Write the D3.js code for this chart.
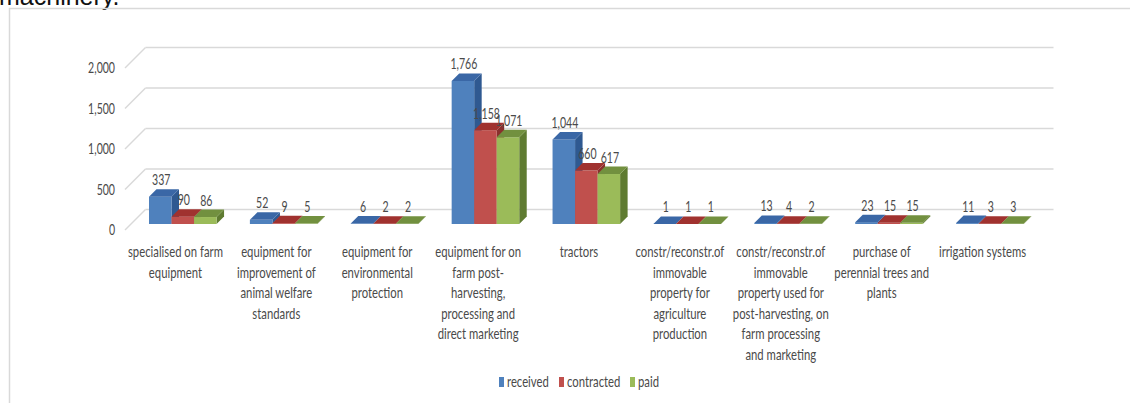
<!DOCTYPE html>
<html>
<head>
<meta charset="utf-8">
<script src="https://cdn.jsdelivr.net/npm/d3@7"></script>
<style>
  body { margin: 0; background: #fff; }
  svg { display: block; }
</style>
</head>
<body>
<div id="chart"></div>
<script>
let width = 1130,
    height = 403

// data
let categories = [
  "specialised on farm equipment",
  "equipment for improvement of animal welfare standards",
  "equipment for environmental protection",
  "equipment for on farm post-harvesting, processing and direct marketing",
  "tractors",
  "constr/reconstr.of immovable property for agriculture production",
  "constr/reconstr.of immovable property used for post-harvesting, on farm processing and marketing",
  "purchase of perennial trees and plants",
  "irrigation systems"
];
let categoryLines = [
  ["specialised on farm", "equipment"],
  ["equipment for", "improvement of", "animal welfare", "standards"],
  ["equipment for", "environmental", "protection"],
  ["equipment for on", "farm post-", "harvesting,", "processing and", "direct marketing"],
  ["tractors"],
  ["constr/reconstr.of", "immovable", "property for", "agriculture", "production"],
  ["constr/reconstr.of", "immovable", "property used for", "post-harvesting, on", "farm processing", "and marketing"],
  ["purchase of", "perennial trees and", "plants"],
  ["irrigation systems"]
];
let seriesNames = ["received", "contracted", "paid"];
let received   = [337, 52, 6, 1766, 1044, 1, 13, 23, 11];
let contracted = [90, 9, 2, 1158, 660, 1, 4, 15, 3];
let paid       = [86, 5, 2, 1071, 617, 1, 2, 15, 3];
let yTicks = [0, 500, 1000, 1500, 2000];

let seriesValues = [received, contracted, paid];

let frontColor = d3.scaleOrdinal().domain(seriesNames).range(["#4f81bd", "#c0504d", "#9bbb59"]);
let topColor   = d3.scaleOrdinal().domain(seriesNames).range(["#3a67a6", "#a0322f", "#72903f"]);
let sideColor  = d3.scaleOrdinal().domain(seriesNames).range(["#2f5991", "#8a302d", "#5f7b31"]);

// oblique 3d: depth z shifts a point right and up
const floorDepth = 20.5,
      barFront = 6,
      barBack = 13.5;

let x0 = d3.scaleBand()
  .domain(categories)
  .range([125, 1033]);

let x1 = d3.scaleBand()
  .domain(seriesNames)
  .range([0, x0.bandwidth()])
  .paddingInner(0)
  .paddingOuter(0.74)
  .align(0.54);

let y = d3.scaleLinear()
  .domain([0, 2000])
  .range([230, 68]);

let fmt = d3.format(",");

let svg = d3.select("#chart")
  .append("svg")
    .attr("width", width)
    .attr("height", height);

// caption tail from the page above the chart
svg.append("text")
  .attr("x", -1)
  .attr("y", 5)
  .style("font-family", "Liberation Sans, Arial, sans-serif")
  .style("font-size", "25px")
  .attr("fill", "#111")
  .text("machinery.");

// chart frame
svg.append("rect")
  .attr("x", 9.5)
  .attr("y", 8.5)
  .attr("width", width + 20)
  .attr("height", height + 20)
  .attr("fill", "none")
  .attr("stroke", "#d9d9d9")
  .attr("stroke-width", 1.5);

// gridlines: back wall + side floor edge
let grid = svg.append("g");
grid.selectAll("line.back")
  .data(yTicks)
  .enter()
  .append("line")
    .attr("x1", x0.range()[0] + floorDepth)
    .attr("x2", x0.range()[1] + floorDepth)
    .attr("y1", d => y(d) - floorDepth)
    .attr("y2", d => y(d) - floorDepth)
    .attr("stroke", "#d9d9d9")
    .attr("stroke-width", 1.5);
grid.selectAll("line.side")
  .data(yTicks)
  .enter()
  .append("line")
    .attr("x1", x0.range()[0])
    .attr("x2", x0.range()[0] + floorDepth)
    .attr("y1", d => y(d))
    .attr("y2", d => y(d) - floorDepth)
    .attr("stroke", "#d9d9d9")
    .attr("stroke-width", 1.5);

const numFont = "Lato, 'Open Sans', sans-serif";
const numSize = 16, numScale = 0.66;
const txtSize = 14.5, txtScale = 0.78;
const textColor = "#4a4a4a";

// y tick labels
svg.append("g")
  .selectAll("text")
  .data(yTicks)
  .enter()
  .append("text")
    .attr("transform", d => `translate(115,${y(d) + 1}) scale(${numScale},1)`)
    .attr("text-anchor", "end")
    .attr("dominant-baseline", "middle")
    .style("font-family", numFont)
    .style("font-size", numSize + "px")
    .attr("fill", textColor)
    .text(d => fmt(d));

// flat list of bars
let bars = [];
categories.forEach((c, i) => {
  seriesNames.forEach((s, j) => {
    bars.push({cat: c, series: s, value: seriesValues[j][i]});
  });
});

function barX(d) { return x0(d.cat) + x1(d.series); }

// 3d bars
let bw = x1.bandwidth();
let barG = svg.append("g")
  .selectAll("g")
  .data(bars)
  .enter()
  .append("g");

barG.append("path")
  .attr("d", d => {
    let xa = barX(d) + bw, yv = y(d.value), y0 = y(0);
    return `M${xa + barFront},${yv - barFront}L${xa + barBack},${yv - barBack}L${xa + barBack},${y0 - barBack}L${xa + barFront},${y0 - barFront}Z`;
  })
  .attr("fill", d => sideColor(d.series));

barG.append("rect")
  .attr("x", d => barX(d) + barFront)
  .attr("y", d => y(d.value) - barFront)
  .attr("width", bw)
  .attr("height", d => y(0) - y(d.value))
  .attr("fill", d => frontColor(d.series));

barG.append("path")
  .attr("d", d => {
    let xa = barX(d), xb = xa + bw, yv = y(d.value);
    return `M${xa + barFront},${yv - barFront}L${xb + barFront},${yv - barFront}L${xb + barBack},${yv - barBack}L${xa + barBack},${yv - barBack}Z`;
  })
  .attr("fill", d => topColor(d.series));

// data labels
svg.append("g")
  .selectAll("text")
  .data(bars)
  .enter()
  .append("text")
    .attr("transform", d => `translate(${barX(d) + barFront + bw / 2 + 1},${y(d.value) - barBack - 4}) scale(${numScale},1)`)
    .attr("text-anchor", "middle")
    .style("font-family", numFont)
    .style("font-size", numSize + "px")
    .attr("fill", textColor)
    .text(d => fmt(d.value));

// category labels
svg.append("g")
  .selectAll("text")
  .data(categories)
  .enter()
  .append("text")
    .attr("transform", d => `translate(${x0(d) + x0.bandwidth() / 2},257) scale(${txtScale},1)`)
    .attr("text-anchor", "middle")
    .style("font-family", numFont)
    .style("font-size", txtSize + "px")
    .attr("fill", textColor)
    .each(function(d, i) {
      d3.select(this).selectAll("tspan")
        .data(categoryLines[i])
        .enter()
        .append("tspan")
          .attr("x", 0)
          .attr("y", (l, k) => k * 20.6)
          .text(l => l);
    });

// legend
let legendX = [499, 559, 630];
let legend = svg.append("g")
  .selectAll("g")
  .data(seriesNames)
  .enter()
  .append("g")
    .attr("transform", (d, i) => `translate(${legendX[i]},382)`);

legend.append("rect")
  .attr("x", 0)
  .attr("y", -5)
  .attr("width", 5)
  .attr("height", 10)
  .attr("fill", d => frontColor(d));

legend.append("text")
  .attr("transform", `translate(8,4.5) scale(${txtScale},1)`)
  .style("font-family", numFont)
  .style("font-size", txtSize + "px")
  .attr("fill", textColor)
  .text(d => d);
</script>
</body>
</html>
